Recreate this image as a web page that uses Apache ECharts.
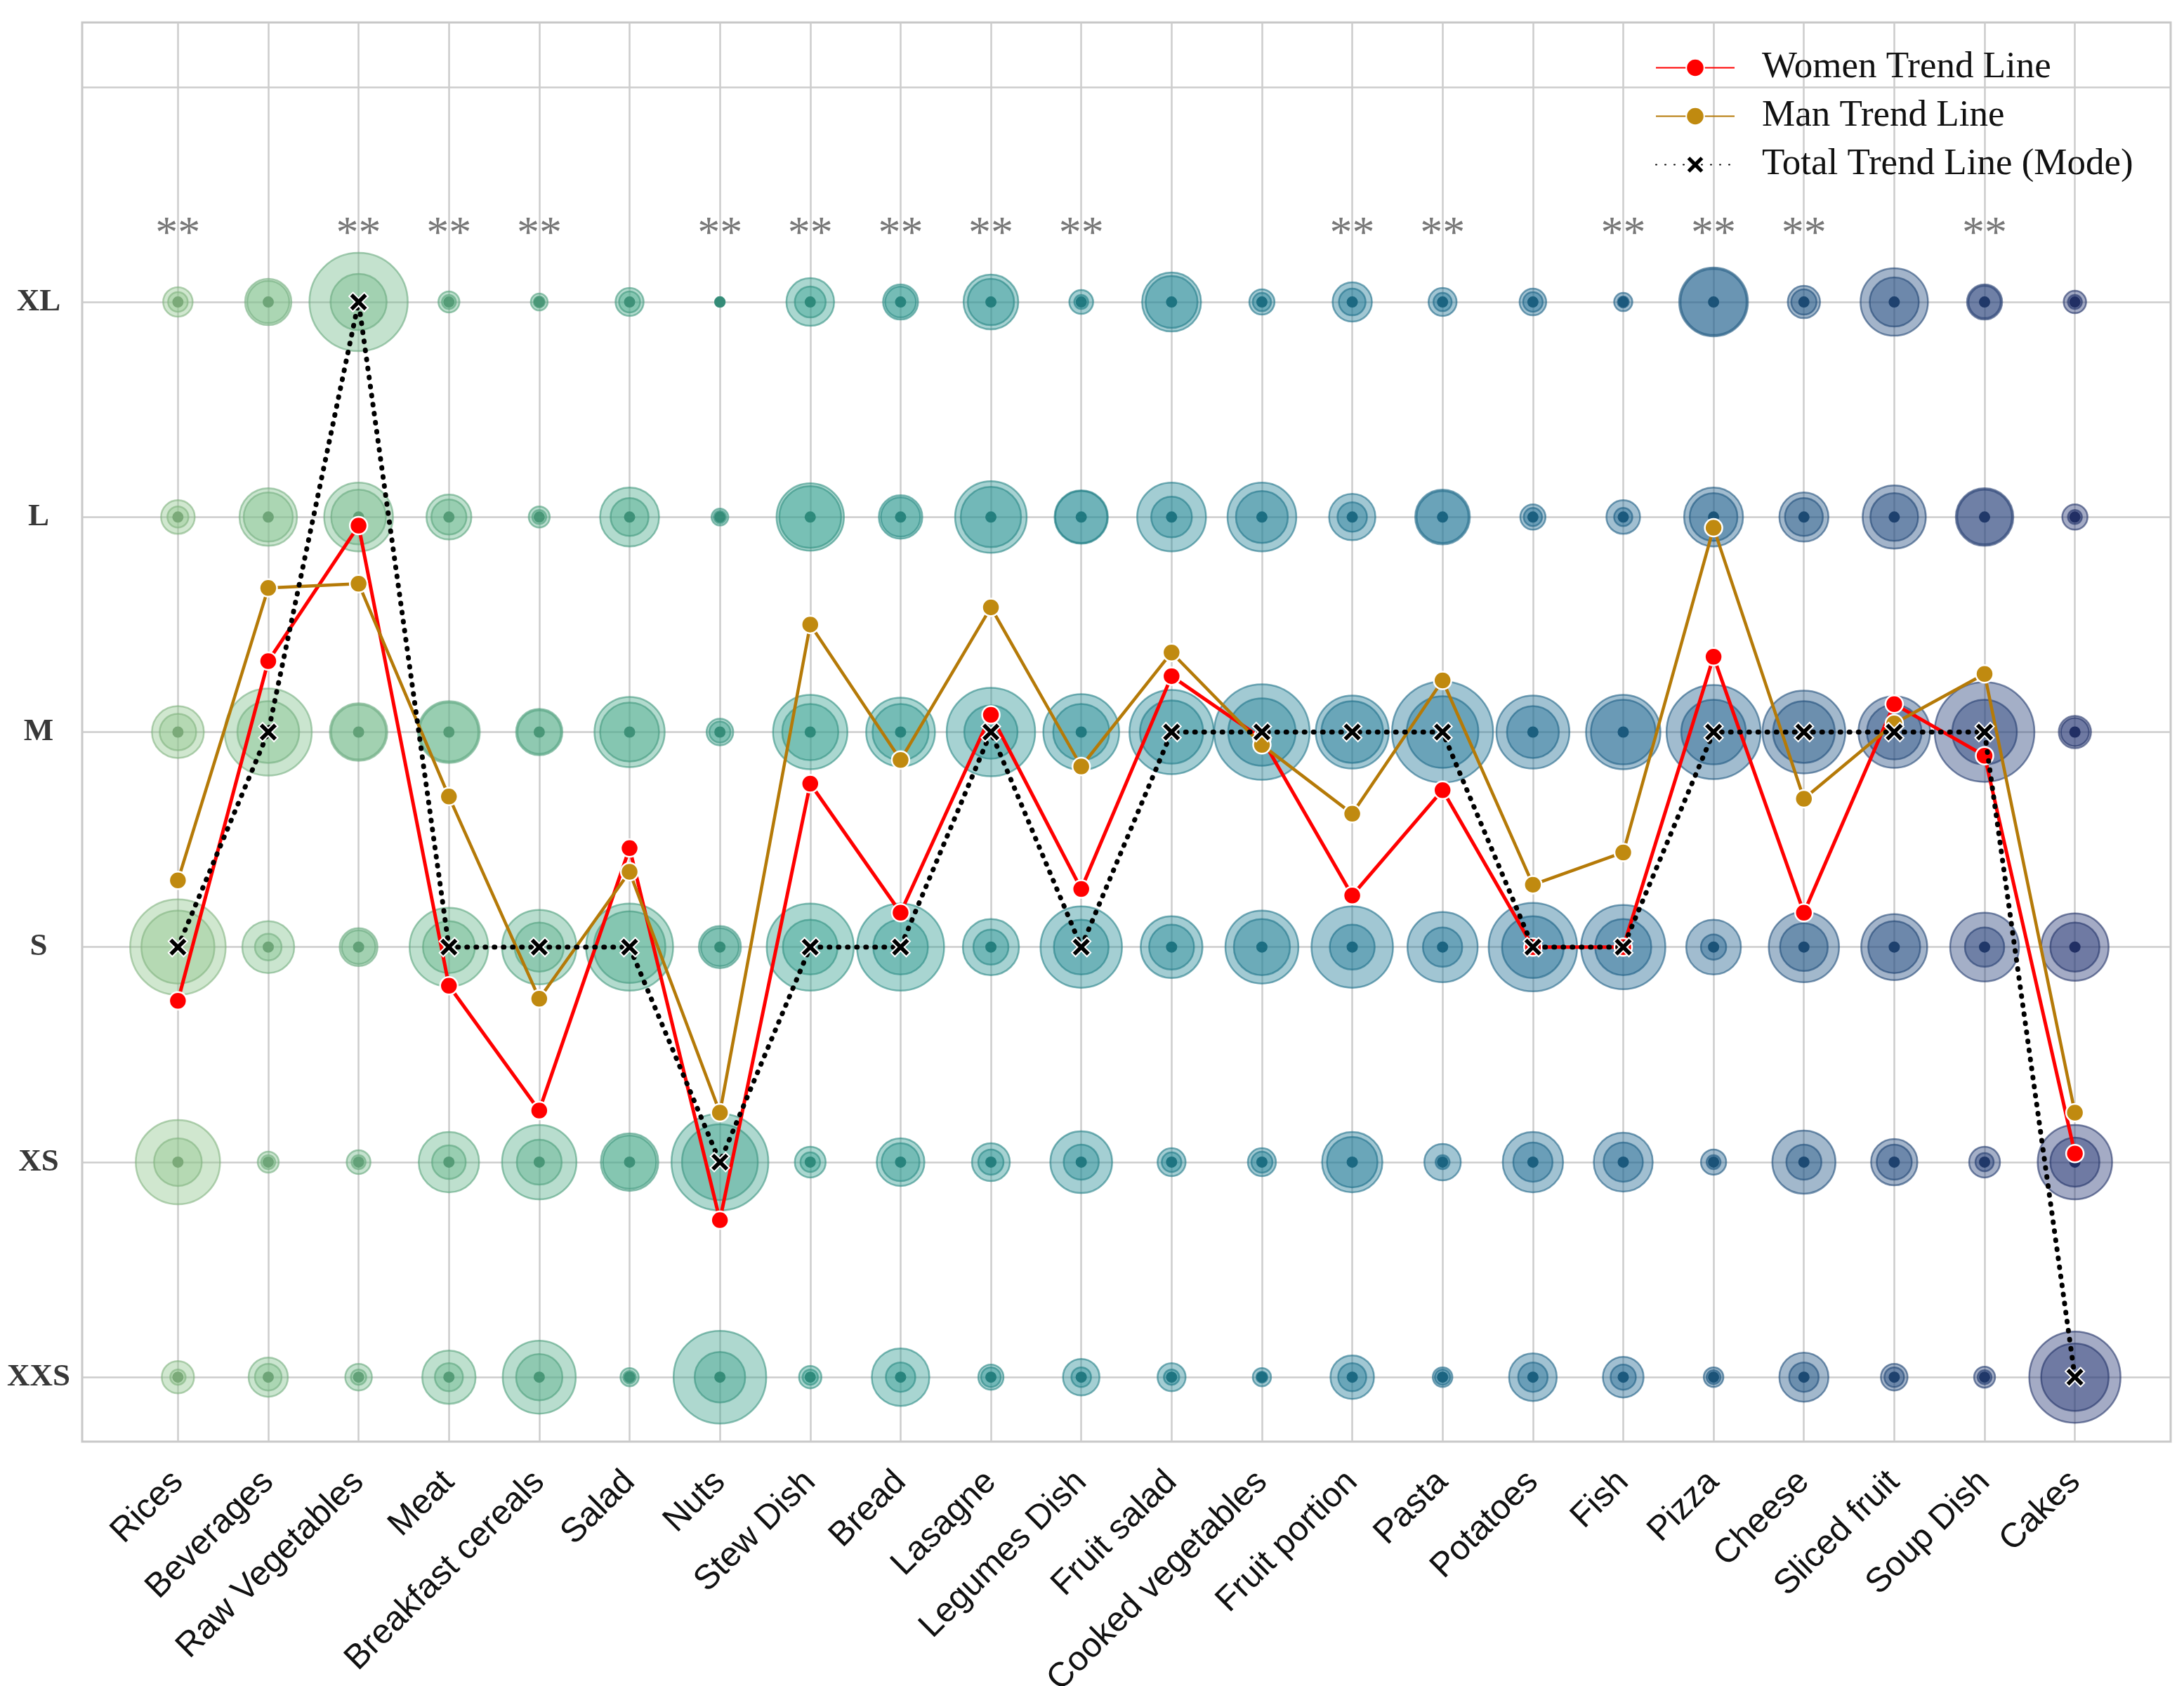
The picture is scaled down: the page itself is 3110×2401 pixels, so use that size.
<!DOCTYPE html>
<html><head><meta charset="utf-8">
<script src="https://cdn.jsdelivr.net/npm/echarts@6/dist/echarts.min.js"></script>
<style>html,body{margin:0;padding:0;background:#fff}#c{width:3110px;height:2401px}</style>
</head><body><div id="c"></div><script>
// ---------- DATA ----------
const foods = ['Rices','Beverages','Raw Vegetables','Meat','Breakfast cereals','Salad','Nuts','Stew Dish','Bread','Lasagne','Legumes Dish','Fruit salad','Cooked vegetables','Fruit portion','Pasta','Potatoes','Fish','Pizza','Cheese','Sliced fruit','Soup Dish','Cakes'];
const sizeLabels = ['XXS','XS','S','M','L','XL'];

const womenTrend = [1.75,3.33,3.96,1.82,1.24,2.46,0.73,2.76,2.16,3.08,2.27,3.26,2.97,2.24,2.73,2.00,2.00,3.35,2.16,3.13,2.89,1.04];
const manTrend   = [2.31,3.67,3.69,2.70,1.76,2.35,1.23,3.50,2.87,3.58,2.84,3.37,2.94,2.62,3.24,2.29,2.44,3.95,2.69,3.04,3.27,1.23];
const totalMode  = [2,3,5,2,2,2,1,2,2,3,2,3,3,3,3,2,2,3,3,3,3,0];
const significant = [1,0,1,1,1,0,1,1,1,1,1,0,0,1,1,0,1,1,1,0,1,0];

// bubble radii (outer / inner ring) per size level, one value per food
const outerXL  = [21,33,70,15,12,20,7,34,25,39,17,42,18,28,20,19,13,49,23,48,25,16];
const innerXL  = [14,30,40,10,8,15,5,22,22,33,10,37,13,19,13,14,8,47,18,35,23,10];
const outerL   = [24,41,49,32,15,42,12,48,31,51,38,49,49,33,39,18,24,42,35,45,41,18];
const innerL   = [15,35,39,25,10,27,9,44,28,43,37,29,37,21,37,13,13,34,27,34,39,10];
const outerM   = [37,62,41,44,33,50,19,53,49,63,54,60,68,52,72,52,53,67,59,51,71,23];
const innerM   = [26,44,39,42,31,42,15,40,40,38,40,45,48,44,51,37,46,46,44,39,46,20];
const outerS   = [68,37,27,56,53,62,30,62,62,40,58,44,52,58,50,63,60,39,50,47,49,48];
const innerS   = [52,19,24,37,35,51,27,39,39,25,39,32,40,32,28,44,40,18,34,37,28,35];
const outerXS  = [60,15,17,43,53,41,69,22,34,27,44,20,20,43,26,43,42,18,45,33,22,53];
const innerXS  = [34,10,10,24,32,38,54,14,27,18,25,14,15,36,10,28,28,10,25,25,13,35];
const outerXXS = [23,28,19,38,52,13,66,16,41,18,26,20,13,31,14,34,29,14,35,19,15,65];
const innerXXS = [11,19,11,20,33,9,36,11,21,14,14,11,8,20,11,21,18,10,21,14,10,48];

// ---------- STYLE ----------
const palette = ['#8fc68d','#80c08c','#72bb8b','#63b58a','#55af8a','#48a98b','#3ea38c','#35a08f','#2f9a91','#2a9493','#268d95','#238796','#218097','#207a97','#1f7496','#1f6e94','#1f6791','#1f608c','#215686','#234c80','#25417a','#263774'];
function rgba(hex, a, k) {
  k = k || 1;
  const r = Math.round(parseInt(hex.slice(1,3),16)*k), g = Math.round(parseInt(hex.slice(3,5),16)*k), b = Math.round(parseInt(hex.slice(5,7),16)*k);
  return 'rgba(' + r + ',' + g + ',' + b + ',' + a + ')';
}
const outerBySize = [outerXXS, outerXS, outerS, outerM, outerL, outerXL];
const innerBySize = [innerXXS, innerXS, innerS, innerM, innerL, innerXL];

function bubbleData(arrs, alpha) {
  const out = [];
  arrs.forEach((arr, lvl) => arr.forEach((r, i) => out.push({
    value: [i, lvl, r],
    itemStyle: { color: rgba(palette[i], alpha), borderColor: rgba(palette[i], 0.6, 0.9) }
  })));
  return out;
}
const dotData = [];
sizeLabels.forEach((s, lvl) => foods.forEach((f, i) => dotData.push({
  value: [i, lvl], itemStyle: { color: rgba(palette[i], 1, 0.86) }
})));

const xIdx = foods.map((f, i) => i);
const yIdx = [0,1,2,3,4,5,6];
const gridLines = xIdx.map(i => ({ xAxis: i })).concat(yIdx.map(k => ({ yAxis: k })));

const xPath = 'path://M2,0 L5,3 L8,0 L10,2 L7,5 L10,8 L8,10 L5,7 L2,10 L0,8 L3,5 L0,2 Z';

const chart = echarts.init(document.getElementById('c'), null, { renderer: 'canvas' });
chart.setOption({
  animation: false,
  backgroundColor: '#ffffff',
  grid: { left: 117, right: 19, top: 32, bottom: 348, containLabel: false, outerBoundsMode: 'none',
    show: true, borderColor: '#c8c8c8', borderWidth: 3, backgroundColor: 'transparent' },
  xAxis: {
    type: 'value', min: -1.06, max: 22.06,
    axisLine: { show: false }, axisTick: { show: false }, splitLine: { show: false },
    axisLabel: {
      customValues: xIdx, rotate: 45, margin: 50,
      formatter: v => foods[Math.round(v)] || '',
      fontFamily: 'Liberation Sans', fontSize: 49, color: '#111'
    }
  },
  yAxis: {
    type: 'value', min: -0.3, max: 6.3,
    axisLine: { show: false }, axisTick: { show: false }, splitLine: { show: false },
    axisLabel: {
      customValues: [0,1,2,3,4,5], margin: 62, align: 'center',
      formatter: v => sizeLabels[Math.round(v)] || '',
      fontFamily: 'Liberation Serif', fontWeight: 'bold', fontSize: 45, color: '#383838'
    }
  },
  legend: {
    show: true, orient: 'vertical', left: 2357, top: 70, padding: 0,
    itemWidth: 112, itemHeight: 32, itemGap: 16,
    data: ['Women Trend Line', 'Man Trend Line', 'Total Trend Line (Mode)'],
    formatter: n => '{g|}' + n,
    textStyle: { fontFamily: 'Liberation Serif', fontSize: 53, color: '#111', rich: { g: { width: 34 } } }
  },
  series: [
    { type: 'line', data: [], silent: true, z: 1,
      markLine: { silent: true, z: 1, symbol: 'none', label: { show: false }, animation: false,
        lineStyle: { color: '#cccccc', width: 2.5, type: 'solid' }, data: gridLines } },
    { type: 'scatter', name: 'outer', silent: true, z: 2, data: bubbleData(outerBySize, 0.42),
      symbolSize: v => 2 * v[2], itemStyle: { borderWidth: 2.5, opacity: 1 } },
    { type: 'scatter', name: 'inner', silent: true, z: 2, data: bubbleData(innerBySize, 0.42),
      symbolSize: v => 2 * v[2], itemStyle: { borderWidth: 2.5, opacity: 1 } },
    { type: 'scatter', name: 'dot', silent: true, z: 3, data: dotData, symbolSize: 16,
      itemStyle: { opacity: 1, borderWidth: 0 } },
    { type: 'scatter', name: 'sig', silent: true, z: 3,
      data: significant.map((s, i) => s ? [i, 5.31] : null).filter(d => d),
      symbolSize: 1, itemStyle: { color: 'rgba(0,0,0,0)' },
      label: { show: true, position: 'inside', formatter: '**', fontFamily: 'Liberation Serif', fontSize: 64, color: '#555' } },
    { type: 'line', name: 'Women Trend Line', z: 4, data: womenTrend.map((v, i) => [i, v]),
      symbol: 'circle', symbolSize: 25, lineStyle: { color: '#ff0000', width: 5 },
      itemStyle: { color: '#ff0000', borderColor: '#ffffff', borderWidth: 2.5 } },
    { type: 'line', name: 'Man Trend Line', z: 5, data: manTrend.map((v, i) => [i, v]),
      symbol: 'circle', symbolSize: 25, lineStyle: { color: '#b57a08', width: 4.5 },
      itemStyle: { color: '#c08a10', borderColor: '#ffffff', borderWidth: 2.5 } },
    { type: 'line', name: 'Total Trend Line (Mode)', z: 6, data: totalMode.map((v, i) => [i, v]),
      symbol: xPath, symbolSize: 27, lineStyle: { color: '#000', width: 7, type: [1, 12], cap: 'round' },
      itemStyle: { color: '#000', borderColor: '#ffffff', borderWidth: 2 } }
  ]
});
</script></body></html>
